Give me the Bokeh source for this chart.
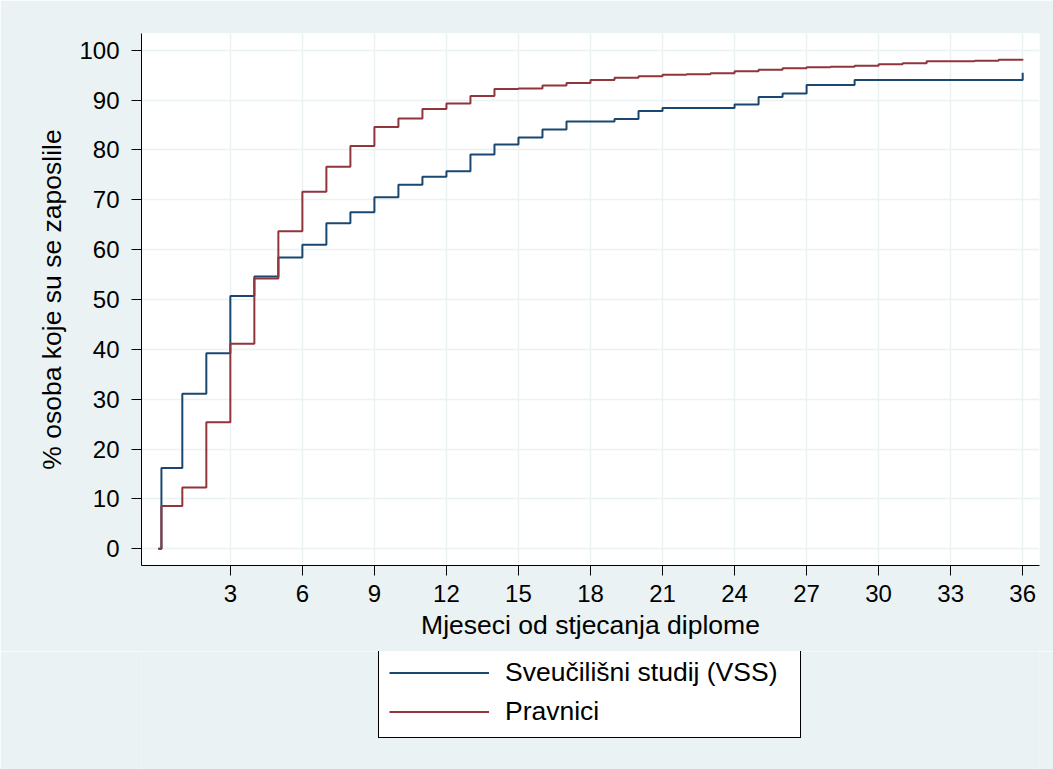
from bokeh.plotting import figure
from bokeh.layouts import column
from bokeh.models import Range1d, FixedTicker, Legend, LegendItem, ColumnDataSource
from bokeh.embed import file_html
from bokeh.resources import INLINE

# Months since graduation (first step occurs shortly after month 0)
months = [0, 0.13, 1, 2, 3, 4, 5, 6, 7, 8, 9, 10, 11, 12, 13, 14, 15, 16, 17, 18,
          19, 20, 21, 22, 23, 24, 25, 26, 27, 28, 29, 30, 31, 32, 33, 34, 35, 36]

# % employed - university study (VSS)
vss = [0, 16.2, 31.1, 39.2, 50.7, 54.6, 58.4, 61.0, 65.3, 67.5, 70.5, 73.0, 74.6, 75.7,
       79.1, 81.1, 82.5, 84.1, 85.7, 85.7, 86.2, 87.8, 88.4, 88.4, 88.4, 89.1, 90.6,
       91.3, 93.0, 93.0, 94.0, 94.0, 94.0, 94.0, 94.0, 94.0, 94.0, 95.5]

# % employed - lawyers
pravnici = [0, 8.6, 12.3, 25.4, 41.1, 54.2, 63.7, 71.6, 76.6, 80.8, 84.6, 86.3, 88.2, 89.3,
            90.8, 92.2, 92.3, 92.9, 93.4, 94.0, 94.5, 94.8, 95.1, 95.2, 95.4, 95.8, 96.1,
            96.4, 96.6, 96.7, 96.9, 97.2, 97.4, 97.8, 97.8, 97.9, 98.1, 98.2]

x_ticks = [3, 6, 9, 12, 15, 18, 21, 24, 27, 30, 33, 36]
y_ticks = [0, 10, 20, 30, 40, 50, 60, 70, 80, 90, 100]

series_labels = ["Sveučilišni studij (VSS)", "Pravnici"]
series_colors = ["#1A476F", "#90353B"]

BG = "#EAF2F3"
FONT = "Liberation Sans"
TITLE_SIZE = "26.5px"

W = 1053
TOP, FRAME_H, BOT = 33, 532, 86
LEFT, FRAME_W = 141, 898
RIGHT = W - LEFT - FRAME_W

src = ColumnDataSource(dict(m=months, vss=vss, prav=pravnici))

p = figure(frame_width=FRAME_W, frame_height=FRAME_H,
           x_range=Range1d(-0.70, 36.70), y_range=Range1d(-3.35, 103.35),
           output_backend="svg", toolbar_location=None,
           min_border_left=LEFT, min_border_right=RIGHT,
           min_border_top=TOP, min_border_bottom=BOT)

p.border_fill_color = BG
p.background_fill_color = "white"
p.outline_line_color = None

r1 = p.step("m", "vss", source=src, mode="after", line_width=2, line_color=series_colors[0])
r2 = p.step("m", "prav", source=src, mode="after", line_width=2, line_color=series_colors[1])

for ax, ticks in ((p.xaxis[0], x_ticks), (p.yaxis[0], y_ticks)):
    ax.ticker = FixedTicker(ticks=ticks)
    ax.minor_tick_line_color = None
    ax.major_tick_in = 0
    ax.major_tick_out = 10
    ax.major_tick_line_color = "black"
    ax.axis_line_color = "black"
    ax.major_label_text_font = FONT
    ax.major_label_text_font_size = "24px"
    ax.major_label_text_color = "black"
    ax.axis_label_text_font = FONT
    ax.axis_label_text_font_size = TITLE_SIZE
    ax.axis_label_text_font_style = "normal"
    ax.axis_label_text_color = "black"

p.xaxis.axis_label = "Mjeseci od stjecanja diplome"
p.yaxis.axis_label = "% osoba koje su se zaposlile"
p.xaxis.major_label_standoff = 9
p.xaxis.axis_label_standoff = 5
p.yaxis.major_label_standoff = 12
p.yaxis.axis_label_standoff = 9
p.yaxis.major_label_orientation = "horizontal"

p.xgrid.ticker = FixedTicker(ticks=x_ticks)
p.ygrid.ticker = FixedTicker(ticks=y_ticks)
for g in (p.xgrid[0], p.ygrid[0]):
    g.grid_line_color = BG
    g.grid_line_width = 1.5

# Legend strip below the plot, same background
H2 = 769 - TOP - FRAME_H - BOT
p2 = figure(frame_width=FRAME_W, frame_height=H2,
            x_range=Range1d(1000, 1001), y_range=Range1d(1000, 1001),
            output_backend="svg", toolbar_location=None, title=None,
            x_axis_location=None, y_axis_location=None,
            min_border_left=LEFT, min_border_right=RIGHT, min_border_top=0, min_border_bottom=0)
p2.border_fill_color = BG
p2.background_fill_color = BG
p2.outline_line_color = None
p2.xgrid.visible = False
p2.ygrid.visible = False
q1 = p2.step("m", "vss", source=src, mode="after", line_width=2, line_color=series_colors[0])
q2 = p2.step("m", "prav", source=src, mode="after", line_width=2, line_color=series_colors[1])

legend = Legend(items=[LegendItem(label=series_labels[0], renderers=[q1]),
                       LegendItem(label=series_labels[1], renderers=[q2])],
                location=(378 - LEFT, 31), orientation="vertical",
                border_line_color="black", border_line_width=1, border_line_alpha=1.0,
                background_fill_color="white", background_fill_alpha=1.0,
                label_text_font=FONT, label_text_font_size=TITLE_SIZE,
                label_text_color="black",
                glyph_width=100, glyph_height=29, label_height=29,
                label_standoff=16, label_width=285, padding=10, spacing=8, margin=0)
p2.add_layout(legend, "center")

layout = column(p, p2, spacing=0)
open("out.html", "w").write(file_html(layout, INLINE))
